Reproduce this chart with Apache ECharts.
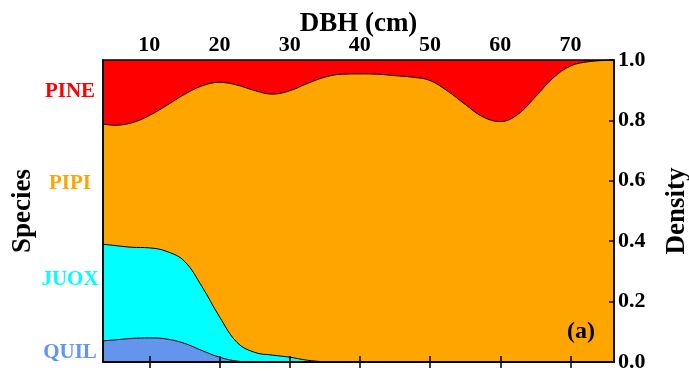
<!DOCTYPE html>
<html>
<head>
<meta charset="utf-8">
<script src="https://cdn.jsdelivr.net/npm/echarts@6/dist/echarts.min.js"></script>
<style>
  html, body { margin: 0; padding: 0; background: #fff; }
  #chart { width: 689px; height: 371px; }
</style>
</head>
<body>
<div id="chart"></div>
<script>
// DBH values (cm) where the boundaries were read
const dbh = [3.4, 5, 7.5, 10, 12.5, 15, 17.5, 20, 22.5, 25, 27.5, 30, 32.5, 35, 37.5, 40,
  42.5, 45, 47.5, 50, 52.5, 55, 57.5, 60, 62.5, 65, 67.5, 70, 72.5, 76.2]
// cumulative density (top edge of each species band)
const pineTop = dbh.map(() => 1)
const pipiTop = [0.788, 0.784, 0.792, 0.816, 0.850, 0.886, 0.914, 0.926, 0.917, 0.899, 0.887, 0.898, 0.922, 0.943, 0.953, 0.954,
  0.953, 0.948, 0.943, 0.932, 0.897, 0.853, 0.812, 0.796, 0.820, 0.878, 0.940, 0.980, 0.994, 1.0]
const juoxTop = [0.390, 0.386, 0.380, 0.378, 0.366, 0.334, 0.250, 0.150, 0.065, 0.032, 0.023, 0.016, 0.006, 0.001, 0, 0,
  0, 0, 0, 0, 0, 0, 0, 0, 0, 0, 0, 0, 0, 0]
const quilTop = [0.070, 0.073, 0.078, 0.080, 0.076, 0.062, 0.038, 0.016, 0.003, 0, 0, 0, 0, 0, 0, 0,
  0, 0, 0, 0, 0, 0, 0, 0, 0, 0, 0, 0, 0, 0]

const species = ['PINE', 'PIPI', 'JUOX', 'QUIL']
const speciesColors = ['#ff0000', '#ffa500', '#00ffff', '#6495ed']
const speciesLabelPos = [0.894, 0.592, 0.272, 0.03]
const xTicks = [10, 20, 30, 40, 50, 60, 70]

const font = 'Liberation Serif'
let chart = echarts.init(document.getElementById('chart'))

const tops = [pineTop, pipiTop, juoxTop, quilTop]
const series = tops.map((top, i) => ({
  name: species[i],
  type: 'line',
  xAxisIndex: 0,
  yAxisIndex: 0,
  data: dbh.map((d, j) => [d, top[j]]),
  smooth: 0.4,
  symbol: 'none',
  z: 2 + i,
  lineStyle: { color: '#000', width: i === 0 ? 0 : 1 },
  areaStyle: { color: speciesColors[i], opacity: 1 },
  silent: true
}))

let rich = {}
species.forEach((s, i) => {
  rich['s' + i] = { color: speciesColors[i], fontFamily: font, fontWeight: 'bold', fontSize: 21 }
})

let option = {
  animation: false,
  grid: { left: 103, right: 75, top: 60, bottom: 9, outerBoundsMode: 'none', containLabel: false,
    show: true, borderColor: '#000', borderWidth: 1.5, z: 10 },
  xAxis: [
    {
      type: 'value', position: 'top', min: 3.41, max: 76.2,
      name: 'DBH (cm)', nameLocation: 'middle', nameGap: 22, nameMoveOverlap: false,
      nameTextStyle: { fontFamily: font, fontWeight: 'bold', fontSize: 27, color: '#000' },
      splitLine: { show: false },
      axisLine: { show: true, lineStyle: { color: '#000', width: 1.5 } },
      axisTick: { show: true, inside: true, length: 6, customValues: xTicks, lineStyle: { color: '#000', width: 1.5 } },
      axisLabel: { customValues: xTicks, margin: 4, fontFamily: font, fontWeight: 'bold', fontSize: 22, color: '#000' },
      z: 10
    },
    {
      type: 'value', position: 'bottom', min: 3.41, max: 76.2,
      splitLine: { show: false },
      axisLine: { show: true, lineStyle: { color: '#000', width: 1.5 } },
      axisTick: { show: true, inside: true, length: 6, customValues: xTicks, lineStyle: { color: '#000', width: 1.5 } },
      axisLabel: { show: false },
      z: 10
    }
  ],
  yAxis: [
    {
      type: 'value', position: 'right', min: 0, max: 1, interval: 0.2,
      name: 'Density', nameLocation: 'middle', nameRotate: 90, nameGap: 50,
      nameTextStyle: { fontFamily: font, fontWeight: 'bold', fontSize: 27, color: '#000' },
      splitLine: { show: false },
      axisLine: { show: true, lineStyle: { color: '#000', width: 1.5 } },
      axisTick: { show: true, inside: true, length: 5, lineStyle: { color: '#000', width: 1.5 } },
      axisLabel: { margin: 4, fontFamily: font, fontWeight: 'bold', fontSize: 22, color: '#000',
        formatter: v => v.toFixed(1) },
      z: 10
    },
    {
      type: 'value', position: 'left', min: 0, max: 1,
      name: 'Species', nameLocation: 'middle', nameRotate: 90, nameGap: 66, nameMoveOverlap: false,
      nameTextStyle: { fontFamily: font, fontWeight: 'bold', fontSize: 27, color: '#000' },
      splitLine: { show: false },
      axisLine: { show: true, lineStyle: { color: '#000', width: 1.5 } },
      axisTick: { show: false },
      axisLabel: {
        customValues: speciesLabelPos, margin: 33, align: 'center',
        formatter: v => {
          let i = speciesLabelPos.indexOf(v)
          return '{s' + i + '|' + species[i] + '}'
        },
        rich: rich
      },
      z: 10
    }
  ],
  graphic: [
    { type: 'text', left: 567, top: 320, z: 20,
      style: { text: '(a)', fontFamily: font, fontWeight: 'bold', fontSize: 24, fill: '#000' } }
  ],
  series: series
}

chart.setOption(option)
</script>
</body>
</html>
